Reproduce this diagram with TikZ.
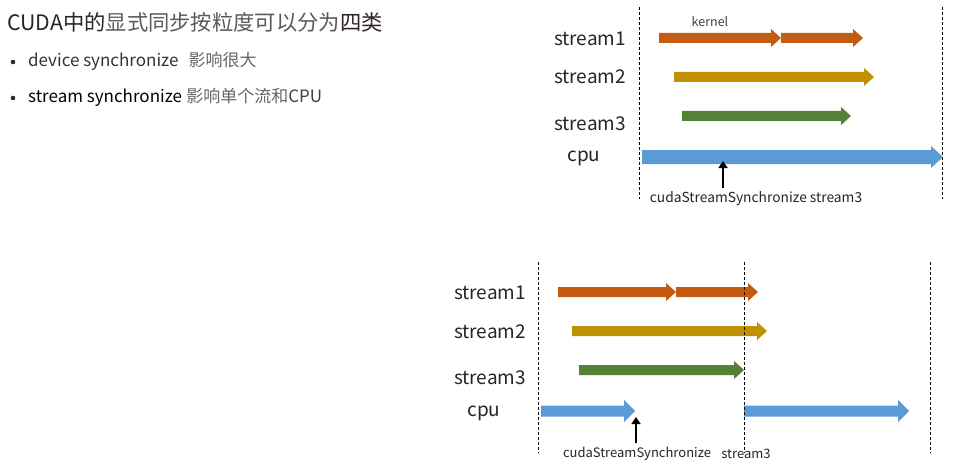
\documentclass[tikz,border=0pt]{standalone}
\usepackage{fontspec}
\setmainfont{Noto Sans CJK SC}
\usetikzlibrary{arrows.meta}
\definecolor{corange}{HTML}{C55A11}
\definecolor{cgold}{HTML}{BF9000}
\definecolor{cgreen}{HTML}{538135}
\definecolor{cblue}{HTML}{5B9BD5}
\definecolor{tdark}{HTML}{262626}
\definecolor{tgray}{HTML}{666666}
\definecolor{tkern}{HTML}{4A3A4A}
\newcommand\fatarr[7]{%
  \fill[#7] (#1,#3-#4) -- (#2-#6,#3-#4) -- (#2-#6,#3-#5) -- (#2,#3) -- (#2-#6,#3+#5) -- (#2-#6,#3+#4) -- (#1,#3+#4) -- cycle;}
\tikzset{
  lbl/.style={font=\fontsize{19}{22}\selectfont, text=tdark, inner sep=0pt},
  captext/.style={font=\fontsize{13}{15}\selectfont, text=tdark, inner sep=0pt},
  bul/.style={circle, fill=tdark, inner sep=0pt, minimum size=4.6pt},
  vdash/.style={draw=black, line width=0.8pt, dash pattern=on 3pt off 2pt},
  syncarr/.style={line width=2.8pt, -{Triangle[length=7pt,width=9pt]}},
}
\begin{document}
\begin{tikzpicture}[x=1pt,y=-1pt]
\useasboundingbox (0,0) rectangle (966,476);
\fill[white] (0,0) rectangle (966,476);
% title and bullets
\node[anchor=west, inner sep=0pt, font=\fontsize{21.3}{25}\selectfont] (title) at (7,22)
  {\textcolor{tdark}{CUDA中的}\textcolor[HTML]{5A5A5A}{显式同步按粒度可以分为}\textcolor[HTML]{2E2228}{四类}};
\node[bul] (b1) at (13,62) {};
\node[anchor=west, inner sep=0pt, font=\fontsize{17}{20}\selectfont] (t1) at (28,61)
  {\textcolor[HTML]{333333}{device synchronize}\hspace{0.6em}\textcolor{tgray}{影响很大}};
\node[bul] (b2) at (13,98) {};
\node[anchor=west, inner sep=0pt, font=\fontsize{17}{20}\selectfont] (t2) at (28,97)
  {\textcolor{black}{stream synchronize}\hspace{0.25em}\textcolor{tgray}{影响单个流和}\textcolor[HTML]{404040}{CPU}};

% ===== top diagram =====
\coordinate (ta1) at (639,7); \coordinate (ta2) at (639,199);
\coordinate (tb1) at (942,7); \coordinate (tb2) at (942,199);
\draw[vdash] (ta1) -- (ta2);
\draw[vdash] (tb1) -- (tb2);
\node[lbl] (ts1) at (590,39) {stream1};
\node[lbl] (ts2) at (590,77) {stream2};
\node[lbl] (ts3) at (590,124) {stream3};
\node[lbl] (tcpu) at (584,158) {cpu};
\node[font=\fontsize{12.5}{14}\selectfont, text=tkern, inner sep=0pt] (tkernel) at (710,22) {kernel};
\fatarr{659}{781}{38}{5}{9}{10}{corange}
\fatarr{781}{863}{38}{5}{9}{10}{corange}
\fatarr{674}{874}{77}{5}{9}{10}{cgold}
\fatarr{682}{851}{116}{5}{9}{10}{cgreen}
\fatarr{642}{943}{157}{7}{11}{12}{cblue}
\coordinate (tarrS) at (723,188);
\coordinate (tarrE) at (723,161);
\draw[syncarr] (tarrS) -- (tarrE);
\node[captext, font=\fontsize{13.8}{15}\selectfont] (tcap) at (756,199) {cudaStreamSynchronize stream3};

% ===== bottom diagram =====
\coordinate (ba1) at (538,262); \coordinate (ba2) at (538,453);
\coordinate (bm1) at (744,262); \coordinate (bm2) at (744,453);
\coordinate (bb1) at (930,262); \coordinate (bb2) at (930,453);
\draw[vdash] (ba1) -- (ba2);
\draw[vdash] (bb1) -- (bb2);
\node[lbl] (bs1) at (490,293) {stream1};
\node[lbl] (bs2) at (490,332) {stream2};
\node[lbl] (bs3) at (490,378) {stream3};
\node[lbl] (bcpu) at (484,413) {cpu};
\fatarr{558}{676}{292}{5}{9}{10}{corange}
\fatarr{676}{758}{292}{5}{9}{10}{corange}
\fatarr{572}{767}{331}{5}{9}{10}{cgold}
\fatarr{579}{744}{370}{5}{9}{10}{cgreen}
\fatarr{541}{635}{411}{5.5}{11}{11}{cblue}
\fatarr{744}{909}{411}{5.5}{11}{11}{cblue}
\draw[vdash] (bm1) -- (bm2);
\coordinate (barrS) at (636,443);
\coordinate (barrE) at (636,417);
\draw[syncarr] (barrS) -- (barrE);
\node[captext] (bcap1) at (637,454) {cudaStreamSynchronize};
\node[captext] (bcap2) at (746,454) {stream3};
\end{tikzpicture}
\end{document}
